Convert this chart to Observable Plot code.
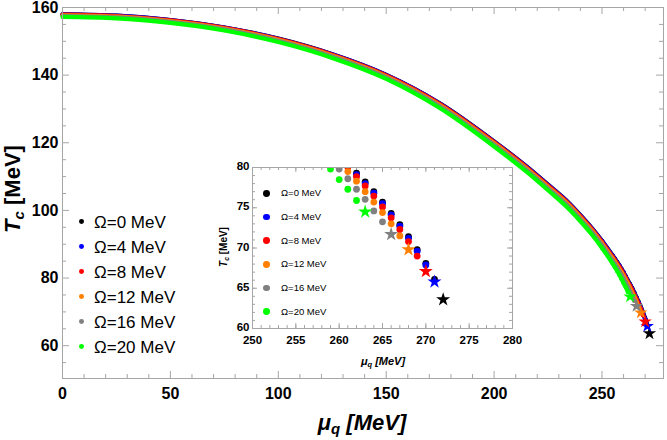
<!DOCTYPE html>
<html><head><meta charset="utf-8">
<script src="https://cdn.jsdelivr.net/npm/d3@7"></script>
<script src="https://cdn.jsdelivr.net/npm/@observablehq/plot@0.6"></script>
<style>
body{margin:0;background:#fff;}
#wrap{position:relative;width:667px;height:440px;font-family:"Liberation Sans",Arial,sans-serif;overflow:hidden;background:#fff;}
#wrap svg{position:absolute;overflow:visible;}
.abs{position:absolute;white-space:nowrap;line-height:1;}
.t sub{font-size:68%;vertical-align:-0.28em;line-height:0;}
</style></head><body><div id="wrap"></div>
<script>
// chemical potential grid (MeV)
const muGrid = [0,25,50,75,100,125,150,175,200,215,225,235,240,245,250,
  255,256,257,258,259,260,261,262,263,264,265,266,267,268,269,270,271,272];
const seriesNames = ["Ω=0 MeV","Ω=4 MeV","Ω=8 MeV","Ω=12 MeV","Ω=16 MeV","Ω=20 MeV"];
const seriesColors = ["#000000","#0000ff","#ff0000","#ff8000","#808080","#00ff00"];
// Tc values (MeV); the last value of each series is the star (end point)
const tcOmega0 = [158.0,157.6,156.3,154.1,150.8,146.2,140.1,131.6,120.4,113.0,107.6,102.0,98.6,95.0,91.0,
  86.6,85.7,84.75,83.8,82.75,81.7,80.5,79.3,78.2,77.0,75.7,74.3,72.9,71.4,69.8,68.1,66.1,63.6];
const tcOmega4 = [157.97,157.57,156.27,154.07,150.76,146.16,140.05,131.55,120.34,112.94,107.53,101.93,98.53,94.92,90.92,
  86.5,85.6,84.65,83.7,82.65,81.55,80.35,79.1,78.0,76.8,75.5,74.1,72.7,71.2,69.6,67.9,65.8];
const tcOmega8 = [157.87,157.47,156.17,153.96,150.64,146.03,139.9,131.38,120.16,112.75,107.34,101.71,98.31,94.69,90.67,
  86.2,85.3,84.35,83.35,82.3,81.2,80.05,78.85,77.7,76.45,75.1,73.75,72.3,70.8,69.0,67.1];
const tcOmega12 = [157.71,157.31,155.99,153.77,150.45,145.81,139.66,131.11,119.85,112.44,107.0,101.35,97.95,94.3,90.25,
  85.75,84.8,83.8,82.8,81.75,80.65,79.5,78.3,77.0,75.7,74.4,73.0,71.5,69.8];
const tcOmega16 = [157.48,157.08,155.75,153.52,150.17,145.5,139.32,130.73,119.43,112.0,106.55,100.85,97.45,93.8,89.7,
  85.05,84.1,83.1,82.05,80.95,79.8,78.6,77.3,76.05,74.6,73.25,71.7];
const tcOmega20 = [157.2,156.8,155.45,153.2,149.8,145.1,138.9,130.2,118.9,111.45,105.95,100.2,96.8,93.1,88.9,
  84.2,83.2,82.1,81.0,79.8,78.5,77.3,75.9,74.5];
// tick values
const mainXTicks = [0,50,100,150,200,250];
const mainXMinor = [10,20,30,40,60,70,80,90,110,120,130,140,160,170,180,190,210,220,230,240,260,270];
const mainYTicks = [60,80,100,120,140,160];
const mainYMinor = [55,65,70,75,85,90,95,105,110,115,125,130,135,145,150,155];
const insetXTicks = [250,255,260,265,270,275,280];
const insetYTicks = [60,65,70,75,80];

const allTc = [tcOmega0,tcOmega4,tcOmega8,tcOmega12,tcOmega16,tcOmega20];
const series = allTc.map((vals,k) => {
  const rows = vals.map((t,i) => ({mu: muGrid[i], tc: t}));
  return {name: seriesNames[k], color: seriesColors[k], body: rows.slice(0,-1), fine: rows.slice(14,-1), star: [rows[rows.length-1]]};
});

const wrap = document.getElementById("wrap");
const FR = "#a6a6a6";
const font = '"Liberation Sans", Arial, sans-serif';

function frameTicks(xMaj, xMin, yMaj, yMin, fw, fh, lMaj, lMin) {
  const m = [];
  const add = (vals, len) => {
    m.push(Plot.ruleX(vals.x, {x: d => d, insetTop: fh - len, stroke: FR}));
    m.push(Plot.ruleX(vals.x, {x: d => d, insetBottom: fh - len, stroke: FR}));
    m.push(Plot.ruleY(vals.y, {y: d => d, insetRight: fw - len, stroke: FR}));
    m.push(Plot.ruleY(vals.y, {y: d => d, insetLeft: fw - len, stroke: FR}));
  };
  add({x: xMaj, y: yMaj}, lMaj);
  add({x: xMin, y: yMin}, lMin);
  return m;
}

// ---------- main chart ----------
{
  const W = 667, H = 440, mL = 62, mR = 4, mT = 7, mB = 62;
  const fw = W - mL - mR, fh = H - mT - mB;
  const marks = [];
  marks.push(...frameTicks(mainXTicks, mainXMinor, mainYTicks, mainYMinor, fw, fh, 7, 4));
  for (const s of series) {
    marks.push(Plot.line(s.body, {x: "mu", y: "tc", stroke: s.color, strokeWidth: 4.2, curve: "monotone-x"}));
    marks.push(Plot.dot(s.fine, {x: "mu", y: "tc", fill: s.color, r: 2.2}));
  }
  for (const s of series) {
    marks.push(Plot.dot(s.star, {x: "mu", y: "tc", fill: s.color, symbol: "star", r: 4.2}));
  }
  marks.push(Plot.frame({stroke: FR}));
  marks.push(Plot.axisX(mainXTicks, {tickSize: 0, tickPadding: 9, fontSize: 16, fontWeight: "bold", label: null}));
  marks.push(Plot.axisY(mainYTicks, {tickSize: 0, tickPadding: 4, fontSize: 16, fontWeight: "bold", label: null}));
  const svg = Plot.plot({
    width: W, height: H, marginLeft: mL, marginRight: mR, marginTop: mT, marginBottom: mB,
    x: {domain: [0, 278.5]}, y: {domain: [50.3, 160]},
    style: {fontFamily: font, background: "transparent", color: "black", overflow: "visible"},
    marks
  });
  svg.style.left = "0px"; svg.style.top = "0px";
  wrap.appendChild(svg);
}

// ---------- inset ----------
{
  const W = 320, H = 225, mL = 52, mR = 8, mT = 17, mB = 47;
  const fw = W - mL - mR, fh = H - mT - mB;
  const marks = [];
  marks.push(...frameTicks(insetXTicks, d3.range(250, 281), insetYTicks, d3.range(60, 81), fw, fh, 5, 3));
  for (const s of series) {
    marks.push(Plot.dot(s.fine, {x: "mu", y: "tc", fill: s.color, r: 3.4, clip: true}));
  }
  for (const s of series) {
    marks.push(Plot.dot(s.star, {x: "mu", y: "tc", fill: s.color, symbol: "star", r: 4.4, clip: true}));
  }
  marks.push(Plot.frame({stroke: FR}));
  marks.push(Plot.axisX(insetXTicks, {tickSize: 0, tickPadding: 7, fontSize: 11.5, fontWeight: "bold", label: null}));
  marks.push(Plot.axisY(insetYTicks, {tickSize: 0, tickPadding: 3, fontSize: 11.5, fontWeight: "bold", label: null, dy: -1}));
  const svg = Plot.plot({
    width: W, height: H, marginLeft: mL, marginRight: mR, marginTop: mT, marginBottom: mB,
    x: {domain: [250, 280]}, y: {domain: [60, 80]},
    style: {fontFamily: font, background: "transparent", color: "black", overflow: "visible"},
    marks
  });
  svg.style.left = "200px"; svg.style.top = "150px";
  wrap.appendChild(svg);
}

// ---------- titles & legends (HTML overlays) ----------
function addDiv(html, css) {
  const d = document.createElement("div");
  d.className = "abs t";
  d.innerHTML = html;
  Object.assign(d.style, css);
  wrap.appendChild(d);
  return d;
}
addDiv("<i>T<sub>c</sub></i> [MeV]", {left: "13px", top: "189px", transform: "translate(-50%,-50%) rotate(-90deg)", fontWeight: "bold", fontSize: "22px"});
addDiv("<i>μ<sub>q</sub> [MeV]</i>", {left: "362px", top: "423px", transform: "translate(-50%,-50%)", fontWeight: "bold", fontSize: "22px"});
addDiv("<i>T<sub>c</sub></i> [MeV]", {left: "224px", top: "247px", transform: "translate(-50%,-50%) rotate(-90deg)", fontWeight: "bold", fontSize: "10px"});
addDiv("<i>μ<sub>q</sub> [MeV]</i>", {left: "383px", top: "361px", transform: "translate(-50%,-50%)", fontWeight: "bold", fontSize: "11px"});

series.forEach((s, i) => {
  const y = 221.7 + 25 * i;
  addDiv("", {left: (81.7 - 2.4) + "px", top: (y - 2.4) + "px", width: "4.8px", height: "4.8px", borderRadius: "50%", background: s.color});
  addDiv(s.name, {left: "94px", top: y + "px", transform: "translateY(-50%)", fontSize: "17px"});
  const yi = 193.3 + 23.7 * i;
  addDiv("", {left: (266.7 - 3.4) + "px", top: (yi - 3.4) + "px", width: "6.8px", height: "6.8px", borderRadius: "50%", background: s.color});
  addDiv(s.name, {left: "281px", top: yi + "px", transform: "translateY(-50%)", fontSize: "9.5px"});
});
</script></body></html>
